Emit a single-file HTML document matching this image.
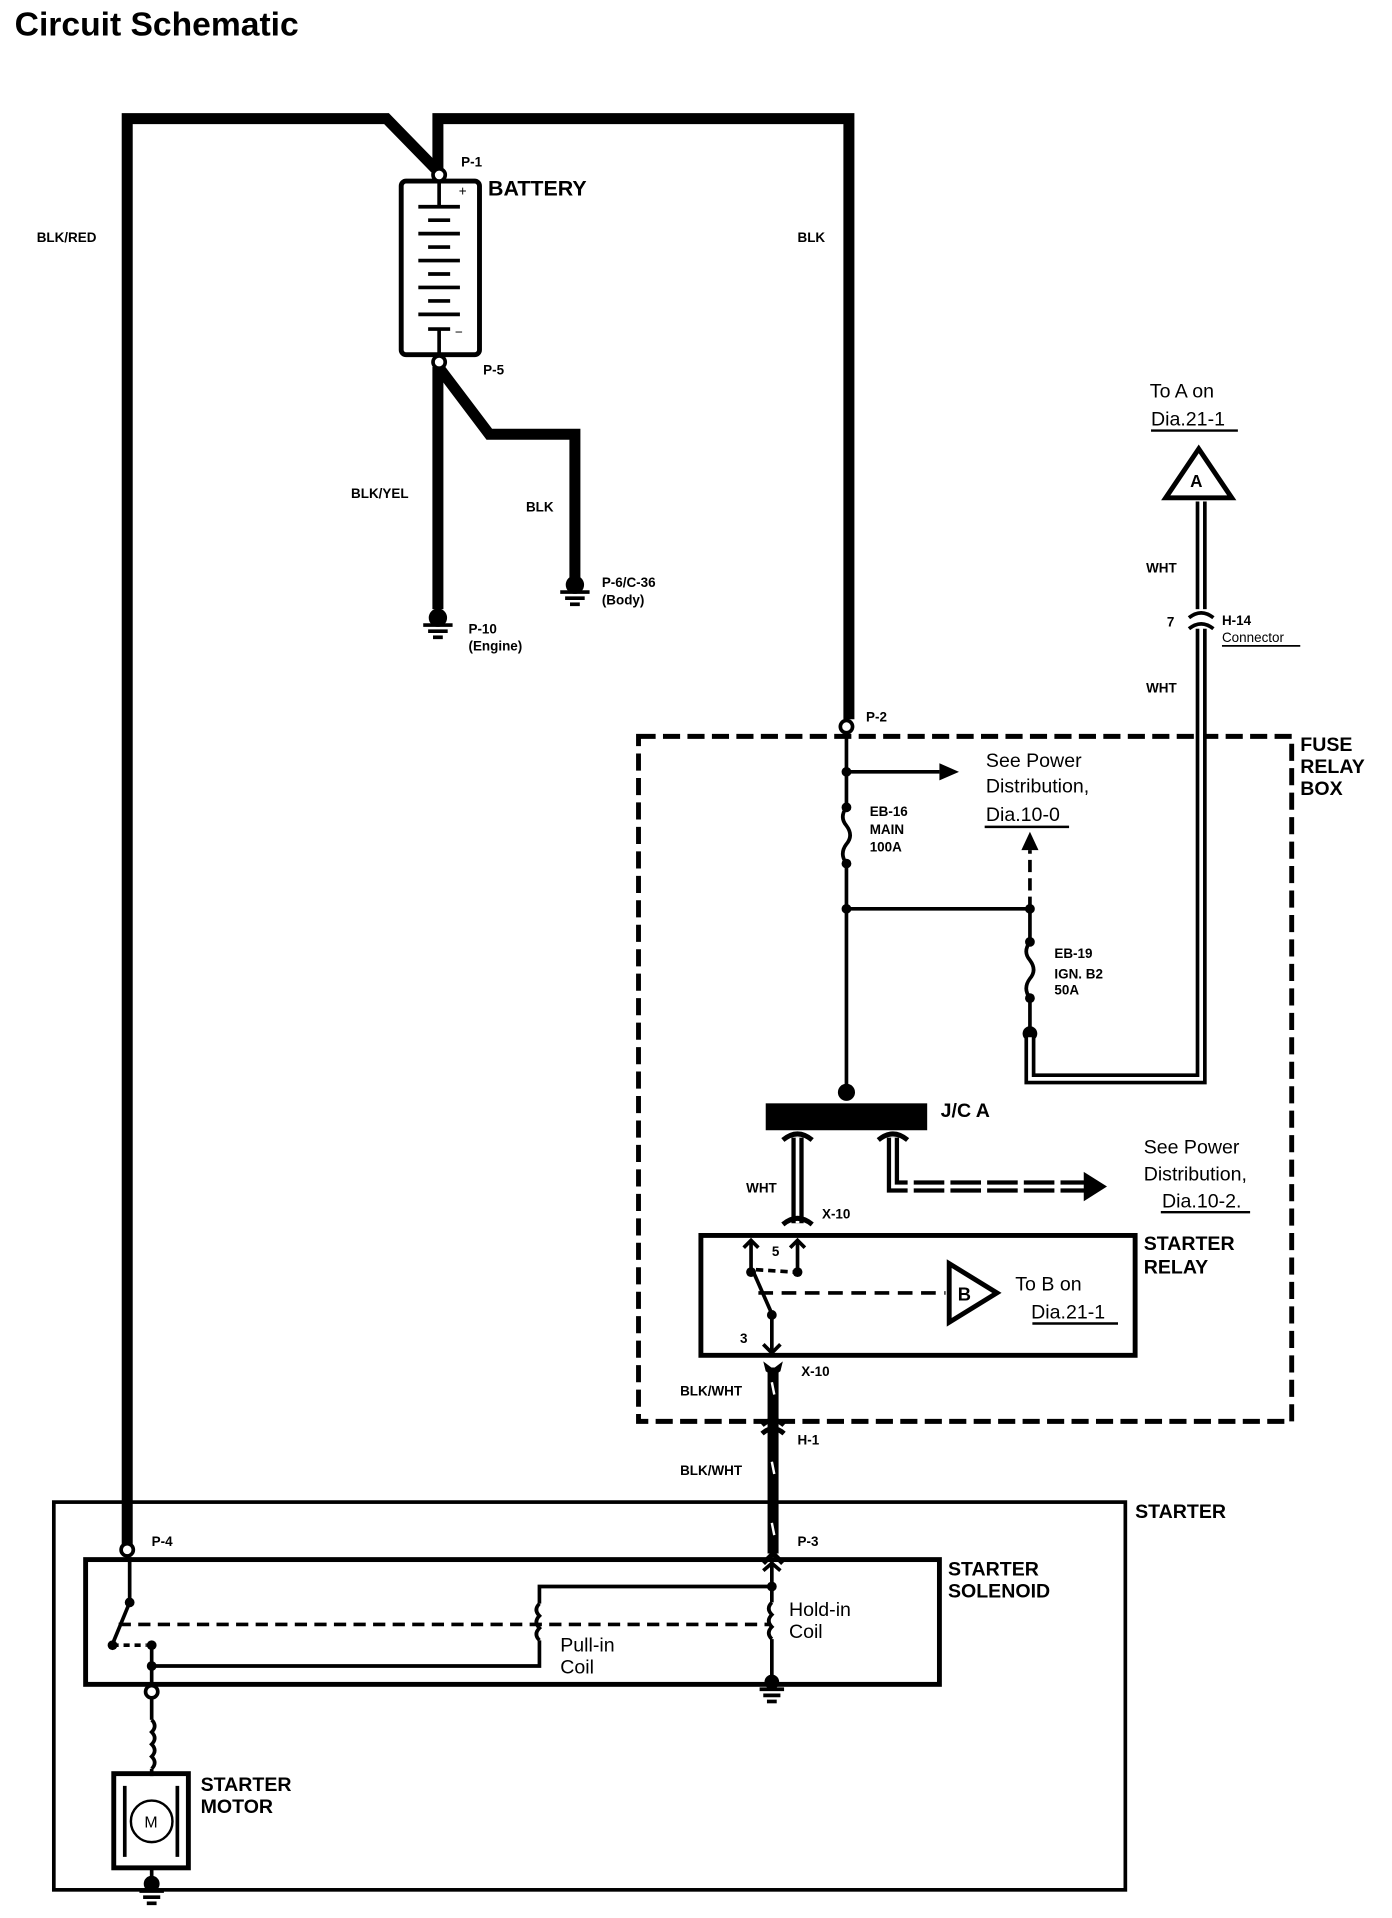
<!DOCTYPE html>
<html><head><meta charset="utf-8"><style>
html,body{margin:0;padding:0;background:#fff}
svg{display:block}
text{font-family:"Liberation Sans",sans-serif;fill:#000}
.b{font-weight:bold}
</style></head><body>
<svg width="1392" height="1918" viewBox="0 0 1138 1568" xmlns="http://www.w3.org/2000/svg">
<text x="12" y="29" class="b" font-size="27.5">Circuit Schematic</text>

<g fill="none" stroke="#000" stroke-width="9" stroke-linejoin="miter">
<polyline points="104,1265 104,97 316,97 356,138"/>
<polyline points="358,138 358,97 694,97 694,588"/>
<polyline points="358,300 358,498"/>
<polyline points="360,302 400,355 470,355 470,472"/>
<polyline points="632,1118 632,1270"/>
</g>
<g stroke="#fff" stroke-width="2">
<line x1="631" y1="1130" x2="633" y2="1140"/><line x1="631" y1="1195" x2="633" y2="1205"/><line x1="631" y1="1245" x2="633" y2="1255"/>
</g>
<rect x="328" y="148" width="64" height="142" rx="4" fill="#fff" stroke="#000" stroke-width="4"/>
<g stroke="#000" stroke-width="3">
<line x1="359" y1="148" x2="359" y2="168"/>
<line x1="342" y1="169" x2="376" y2="169"/><line x1="350" y1="180" x2="368" y2="180"/>
<line x1="342" y1="191" x2="376" y2="191"/><line x1="350" y1="202" x2="368" y2="202"/>
<line x1="342" y1="213" x2="376" y2="213"/><line x1="350" y1="224" x2="368" y2="224"/>
<line x1="342" y1="235" x2="376" y2="235"/><line x1="350" y1="246" x2="368" y2="246"/>
<line x1="342" y1="257" x2="376" y2="257"/>
<line x1="350" y1="269" x2="368" y2="269"/><line x1="359" y1="269" x2="359" y2="290"/>
</g>
<text x="375" y="160" font-size="11">+</text><text x="372" y="275" font-size="11">−</text>
<circle cx="359" cy="143" r="5" fill="#fff" stroke="#000" stroke-width="3"/>
<circle cx="359" cy="296" r="5" fill="#fff" stroke="#000" stroke-width="3"/>
<text x="377" y="136" class="b" font-size="11">P-1</text>
<text x="399" y="160" class="b" font-size="17.5">BATTERY</text>
<text x="395" y="306" class="b" font-size="11">P-5</text>
<text x="30" y="198" class="b" font-size="11">BLK/RED</text>
<text x="652" y="198" class="b" font-size="11">BLK</text>
<text x="287" y="407" class="b" font-size="11">BLK/YEL</text>
<text x="430" y="418" class="b" font-size="11">BLK</text>
<g stroke="#000" stroke-width="3">
<circle cx="358" cy="505" r="6" fill="#000"/><line x1="346" y1="511" x2="370" y2="511"/><line x1="350" y1="516" x2="366" y2="516"/><line x1="354" y1="521" x2="362" y2="521"/>
<circle cx="470" cy="478" r="6" fill="#000"/><line x1="458" y1="484" x2="482" y2="484"/><line x1="462" y1="489" x2="478" y2="489"/><line x1="466" y1="494" x2="474" y2="494"/>
</g>
<text x="383" y="518" class="b" font-size="11">P-10</text><text x="383" y="532" class="b" font-size="11">(Engine)</text>
<text x="492" y="480" class="b" font-size="11">P-6/C-36</text><text x="492" y="494" class="b" font-size="11">(Body)</text>

<rect x="522" y="602" width="534" height="560" fill="none" stroke="#000" stroke-width="4" stroke-dasharray="14,6"/>
<text x="1063" y="614" class="b" font-size="16">FUSE</text><text x="1063" y="632" class="b" font-size="16">RELAY</text><text x="1063" y="650" class="b" font-size="16">BOX</text>
<circle cx="692" cy="594" r="5" fill="#fff" stroke="#000" stroke-width="3"/>
<text x="708" y="590" class="b" font-size="11">P-2</text>
<g stroke="#000" stroke-width="3" fill="none">
<line x1="692" y1="600" x2="692" y2="660"/>
<path d="M692,660 q-6,8 0,15 q6,8 0,15 q-6,8 0,16"/>
<line x1="692" y1="706" x2="692" y2="890"/>
<line x1="692" y1="631" x2="768" y2="631"/>
<line x1="692" y1="743" x2="842" y2="743"/>
<line x1="842" y1="743" x2="842" y2="770"/>
<path d="M842,770 q-6,8 0,15 q6,8 0,15 q-6,8 0,16"/>
<line x1="842" y1="816" x2="842" y2="845"/>
<line x1="842" y1="743" x2="842" y2="695" stroke-dasharray="10,5"/>
</g>
<polygon points="768,624 784,631 768,638" fill="#000"/>
<polygon points="835,695 842,680 849,695" fill="#000"/>
<g fill="#000"><circle cx="692" cy="631" r="4"/><circle cx="692" cy="660" r="4"/><circle cx="692" cy="706" r="4"/><circle cx="692" cy="743" r="4"/><circle cx="842" cy="743" r="4"/><circle cx="842" cy="770" r="4"/><circle cx="842" cy="816" r="4"/><circle cx="842" cy="845" r="6"/><circle cx="692" cy="893" r="7"/></g>
<text x="711" y="667" class="b" font-size="11">EB-16</text><text x="711" y="682" class="b" font-size="11">MAIN</text><text x="711" y="696" class="b" font-size="11">100A</text>
<text x="862" y="783" class="b" font-size="11">EB-19</text><text x="862" y="800" class="b" font-size="11">IGN. B2</text><text x="862" y="813" class="b" font-size="11">50A</text>
<text x="806" y="627" font-size="16">See Power</text><text x="806" y="648" font-size="16">Distribution,</text><text x="806" y="671" font-size="16">Dia.10-0</text>
<line x1="805" y1="676" x2="874" y2="676" stroke="#000" stroke-width="2"/>
<g fill="none">
<polyline points="842,848 842,882 982,882 982,410" stroke="#000" stroke-width="9"/>
<polyline points="842,848 842,882 982,882 982,410" stroke="#fff" stroke-width="3"/>
</g>
<rect x="972" y="498" width="20" height="16" fill="#fff"/>
<path d="M972,505 q10,-8 20,0 M972,514 q10,-8 20,0" stroke="#000" stroke-width="3" fill="none"/>
<polygon points="980,367 953,407 1007,407" fill="#fff" stroke="#000" stroke-width="4"/>
<text x="973" y="398" class="b" font-size="14">A</text>
<text x="940" y="325" font-size="16">To A on</text><text x="941" y="348" font-size="16">Dia.21-1</text>
<line x1="941" y1="352" x2="1012" y2="352" stroke="#000" stroke-width="2"/>
<text x="937" y="468" class="b" font-size="11">WHT</text><text x="937" y="566" class="b" font-size="11">WHT</text>
<text x="954" y="512" class="b" font-size="11">7</text><text x="999" y="511" class="b" font-size="11">H-14</text><text x="999" y="525" font-size="11">Connector</text>
<line x1="999" y1="528" x2="1063" y2="528" stroke="#000" stroke-width="1.5"/>

<rect x="626" y="902" width="132" height="22" fill="#000"/>
<text x="769" y="913" class="b" font-size="16">J/C A</text>
<g fill="none">
<line x1="652" y1="930" x2="652" y2="1000" stroke="#000" stroke-width="10"/>
<line x1="652" y1="930" x2="652" y2="1000" stroke="#fff" stroke-width="3"/>
<polyline points="730,930 730,970 890,970" stroke="#000" stroke-width="10"/>
<polyline points="730,930 730,970 890,970" stroke="#fff" stroke-width="3"/>
</g>
<g fill="#fff"><rect x="742" y="964" width="5" height="12"/><rect x="772" y="964" width="5" height="12"/><rect x="802" y="964" width="5" height="12"/><rect x="832" y="964" width="5" height="12"/><rect x="862" y="964" width="5" height="12"/></g>
<polygon points="886,958 905,970 886,982" fill="#000"/>
<g stroke="#000" stroke-width="4" fill="none">
<path d="M640,932 q12,-10 24,0 M718,932 q12,-10 24,0 M640,1001 q12,-10 24,0"/>
</g>
<text x="610" y="975" class="b" font-size="11">WHT</text>
<text x="672" y="996" class="b" font-size="11">X-10</text>
<text x="935" y="943" font-size="16">See Power</text><text x="935" y="965" font-size="16">Distribution,</text><text x="950" y="987" font-size="16">Dia.10-2.</text>
<line x1="949" y1="991" x2="1022" y2="991" stroke="#000" stroke-width="2"/>

<rect x="573" y="1010" width="355" height="98" fill="none" stroke="#000" stroke-width="4"/>
<text x="935" y="1022" class="b" font-size="16">STARTER</text><text x="935" y="1041" class="b" font-size="16">RELAY</text>
<g stroke="#000" stroke-width="3" fill="none">
<line x1="614" y1="1014" x2="614" y2="1040"/><path d="M608,1020 l6,-6 l6,6"/>
<line x1="652" y1="1014" x2="652" y2="1040"/><path d="M646,1020 l6,-6 l6,6"/>
<line x1="616" y1="1040" x2="631" y2="1074"/>
<line x1="631" y1="1074" x2="631" y2="1105"/><path d="M624,1099 l7,7 l7,-7"/>
<line x1="618" y1="1038" x2="650" y2="1040" stroke-dasharray="6,4"/>
<line x1="620" y1="1057" x2="773" y2="1057" stroke-dasharray="12,7"/>
</g>
<g fill="#000"><circle cx="614" cy="1040" r="4"/><circle cx="652" cy="1040" r="4"/><circle cx="631" cy="1075" r="4"/></g>
<text x="631" y="1027" class="b" font-size="11">5</text><text x="605" y="1098" class="b" font-size="11">3</text>
<polygon points="776,1033 815,1057 776,1081" fill="#fff" stroke="#000" stroke-width="4"/>
<text x="783" y="1063" class="b" font-size="15">B</text>
<text x="830" y="1055" font-size="16">To B on</text><text x="843" y="1078" font-size="16">Dia.21-1</text>
<line x1="844" y1="1082" x2="914" y2="1082" stroke="#000" stroke-width="2"/>
<path d="M624,1113 l8,6 l8,-6 l-2,8 l-6,4 l-6,-4z" fill="#000"/>
<text x="655" y="1125" class="b" font-size="11">X-10</text>
<text x="556" y="1141" class="b" font-size="11">BLK/WHT</text>
<path d="M623,1165 q9,-8 18,0 M623,1172 q9,-8 18,0" stroke="#000" stroke-width="4" fill="none"/>
<text x="652" y="1181" class="b" font-size="11">H-1</text>
<text x="556" y="1206" class="b" font-size="11">BLK/WHT</text>

<rect x="44" y="1228" width="876" height="317" fill="none" stroke="#000" stroke-width="3"/>
<text x="928" y="1241" class="b" font-size="16">STARTER</text>
<rect x="70" y="1275" width="698" height="102" fill="none" stroke="#000" stroke-width="4"/>
<text x="775" y="1288" class="b" font-size="16">STARTER</text><text x="775" y="1306" class="b" font-size="16">SOLENOID</text>
<circle cx="104" cy="1267" r="5" fill="#fff" stroke="#000" stroke-width="3"/>
<text x="124" y="1264" class="b" font-size="11">P-4</text>
<text x="652" y="1264" class="b" font-size="11">P-3</text>
<path d="M624,1278 l8,-8 l8,8" stroke="#000" stroke-width="4" fill="none"/>
<g stroke="#000" stroke-width="3" fill="none">
<line x1="106" y1="1273" x2="106" y2="1310"/>
<line x1="106" y1="1310" x2="92" y2="1344"/>
<line x1="97" y1="1328" x2="630" y2="1328" stroke-dasharray="10,6"/>
<line x1="92" y1="1345" x2="120" y2="1345" stroke-dasharray="5,4"/>
<line x1="124" y1="1345" x2="124" y2="1378"/>
<polyline points="124,1362 441,1362 441,1341"/>
<path d="M441,1341 q-5,-5 0,-10 q-5,-5 0,-10 q-5,-5 0,-10"/>
<polyline points="441,1311 441,1297 631,1297"/>
<line x1="631" y1="1277" x2="631" y2="1310"/>
<path d="M631,1310 q-5,5 0,10 q-5,5 0,10 q-5,5 0,10"/>
<line x1="631" y1="1340" x2="631" y2="1375"/>
<line x1="124" y1="1388" x2="124" y2="1406"/>
<path d="M124,1406 q5,5 0,10 q5,5 0,10 q5,5 0,10 q5,5 0,10"/>
<line x1="124" y1="1446" x2="124" y2="1452"/>
</g>
<path d="M624,1284 l7,-6 l7,6" stroke="#000" stroke-width="3" fill="none"/>
<g fill="#000"><circle cx="106" cy="1310" r="4"/><circle cx="92" cy="1345" r="4"/><circle cx="124" cy="1345" r="4"/><circle cx="124" cy="1362" r="4"/><circle cx="631" cy="1297" r="4"/><circle cx="631" cy="1375" r="6"/></g>
<g stroke="#000" stroke-width="3"><line x1="621" y1="1381" x2="641" y2="1381"/><line x1="624" y1="1386" x2="638" y2="1386"/><line x1="627" y1="1391" x2="635" y2="1391"/></g>
<circle cx="124" cy="1383" r="5" fill="#fff" stroke="#000" stroke-width="3"/>
<text x="458" y="1350" font-size="16">Pull-in</text><text x="458" y="1368" font-size="16">Coil</text>
<text x="645" y="1321" font-size="16">Hold-in</text><text x="645" y="1339" font-size="16">Coil</text>
<rect x="93" y="1450" width="61" height="77" fill="none" stroke="#000" stroke-width="4"/>
<line x1="102" y1="1460" x2="102" y2="1518" stroke="#000" stroke-width="3"/><line x1="145" y1="1460" x2="145" y2="1518" stroke="#000" stroke-width="3"/>
<circle cx="124" cy="1489" r="17" fill="#fff" stroke="#000" stroke-width="2"/>
<text x="118" y="1494" font-size="13">M</text>
<text x="164" y="1464" class="b" font-size="16">STARTER</text><text x="164" y="1482" class="b" font-size="16">MOTOR</text>
<g stroke="#000" stroke-width="3"><line x1="124" y1="1527" x2="124" y2="1540"/><circle cx="124" cy="1540" r="5" fill="#000"/><line x1="114" y1="1546" x2="134" y2="1546"/><line x1="117" y1="1551" x2="131" y2="1551"/><line x1="120" y1="1556" x2="128" y2="1556"/></g>
</svg>
</body></html>
